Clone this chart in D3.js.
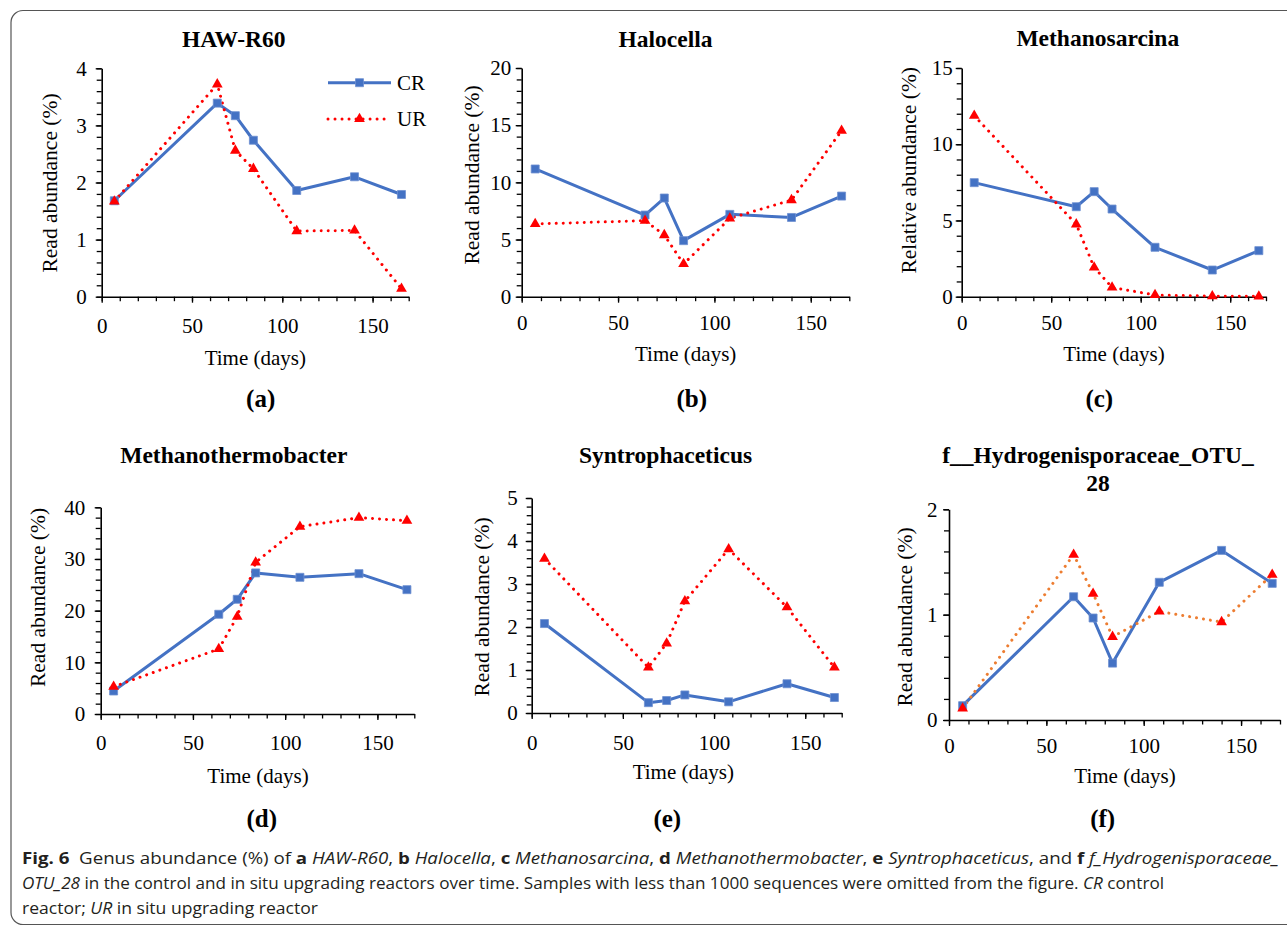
<!DOCTYPE html>
<html>
<head>
<meta charset="utf-8">
<script src="https://cdn.jsdelivr.net/npm/d3@7"></script>
<style>
  html, body { margin: 0; padding: 0; background: #fff; }
  svg { display: block; }
</style>
</head>
<body>
<svg id="chart" width="1287" height="927"></svg>
<script>
// ---------------- DATA ----------------
const days = [7, 64, 74, 84, 108, 140, 166];
const seriesNames = ["CR", "UR"];

const hawCR = [1.68, 3.39, 3.17, 2.74, 1.86, 2.10, 1.79];
const hawUR = [1.67, 3.72, 2.56, 2.24, 1.15, 1.16, 0.14];

const haloCR = [11.17, 7.14, 8.63, 4.90, 7.20, 6.93, 8.80];
const haloUR = [6.36, 6.65, 5.39, 2.86, 6.85, 8.45, 14.52];

const msarCR = [7.48, 5.90, 6.89, 5.75, 3.24, 1.75, 3.02];
const msarUR = [11.87, 4.75, 1.92, 0.61, 0.11, 0.04, 0.02];

const mthermCR = [4.45, 19.30, 22.20, 27.30, 26.45, 27.16, 24.06];
const mthermUR = [5.29, 12.58, 18.84, 29.35, 36.26, 38.00, 37.40];

const syntCR = [2.08, 0.24, 0.29, 0.42, 0.26, 0.68, 0.36];
const syntUR = [3.59, 1.06, 1.62, 2.60, 3.81, 2.46, 1.06];

const hydroCR = [0.136, 1.17, 0.968, 0.54, 1.307, 1.61, 1.297];
const hydroUR = [0.11, 1.57, 1.20, 0.79, 1.03, 0.93, 1.38];

const xTicks = [0, 50, 100, 150];
const yTicksA = [0, 1, 2, 3, 4];
const yTicksB = [0, 5, 10, 15, 20];
const yTicksC = [0, 5, 10, 15];
const yTicksD = [0, 10, 20, 30, 40];
const yTicksE = [0, 1, 2, 3, 4, 5];
const yTicksF = [0, 1, 2];

const titles = ["HAW-R60", "Halocella", "Methanosarcina", "Methanothermobacter", "Syntrophaceticus", ["f__Hydrogenisporaceae_OTU_", "28"]];
const yLabels = ["Read abundance (%)", "Read abundance (%)", "Relative abundance (%)", "Read abundance (%)", "Read abundance (%)", "Read abundance (%)"];
const xLabel = "Time (days)";
const panelTags = ["(a)", "(b)", "(c)", "(d)", "(e)", "(f)"];

// ---------------- STYLE / LAYOUT ----------------
const BLUE = "#4472C4", RED = "#FF0000", ORANGE = "#ED7D31";
const SERIF = "'Liberation Serif', 'Times New Roman', serif";

const panels = [
  { cr: hawCR, ur: hawUR, yt: yTicksA, ymax: 4, minor: 0.2, x0: 101.7, x1: 408.7, yTop: 68.3, yBot: 296.7,
    title: titles[0], tx: 233.7, ty: 46.5, yl: yLabels[0], ylx: 50, yly: 183, gap: 15, xtb: 36,
    xlx: 255.3, xly: 365, tag: panelTags[0], tgx: 260.7, tgy: 407, urColor: RED, legend: true },
  { cr: haloCR, ur: haloUR, yt: yTicksB, ymax: 20, minor: 1, x0: 521.7, x1: 849.3, yTop: 68, yBot: 296.7,
    title: titles[1], tx: 665.5, ty: 46.5, yl: yLabels[1], ylx: 472.3, yly: 175, gap: 10.5, xtb: 33.5,
    xlx: 685.7, xly: 361.3, tag: panelTags[1], tgx: 691.7, tgy: 407, urColor: RED },
  { cr: msarCR, ur: msarUR, yt: yTicksC, ymax: 15, minor: 1, x0: 961.7, x1: 1266, yTop: 68, yBot: 296.7,
    title: titles[2], tx: 1097.8, ty: 46, yl: yLabels[2], ylx: 908.7, yly: 170.3, gap: 9, xtb: 33.5,
    xlx: 1114, xly: 361.3, tag: panelTags[2], tgx: 1099.3, tgy: 407, urColor: RED },
  { cr: mthermCR, ur: mthermUR, yt: yTicksD, ymax: 40, minor: 2, x0: 100.7, x1: 414.3, yTop: 507.3, yBot: 714,
    title: titles[3], tx: 233.8, ty: 463.3, yl: yLabels[3], ylx: 37.5, yly: 597.5, gap: 15.5, xtb: 36,
    xlx: 258, xly: 782.7, tag: panelTags[3], tgx: 261.7, tgy: 827, urColor: RED },
  { cr: syntCR, ur: syntUR, yt: yTicksE, ymax: 5, minor: 0.2, x0: 531.7, x1: 841.7, yTop: 498, yBot: 713,
    title: titles[4], tx: 665.5, ty: 463.3, yl: yLabels[4], ylx: 481.7, yly: 607, gap: 14, xtb: 37,
    xlx: 683.3, xly: 779.3, tag: panelTags[4], tgx: 667.3, tgy: 827, urColor: RED },
  { cr: hydroCR, ur: hydroUR, yt: yTicksF, ymax: 2, minor: 0.2, x0: 949, x1: 1280, yTop: 509.3, yBot: 720,
    title: titles[5], tx: 1098, ty: 463.3, yl: yLabels[5], ylx: 905.3, yly: 617, gap: 11.5, xtb: 33,
    xlx: 1125, xly: 782.7, tag: panelTags[5], tgx: 1102.7, tgy: 827, urColor: ORANGE }
];

const svg = d3.select("#chart");

// outer frame
svg.append("rect")
  .attr("x", 11).attr("y", 10.5).attr("width", 1300).attr("height", 914)
  .attr("rx", 12).attr("ry", 12)
  .attr("fill", "none").attr("stroke", "#555").attr("stroke-width", 1.2);

const sqSym = d3.symbol().type(d3.symbolSquare).size(64);
const triSym = d3.symbol().type(d3.symbolTriangle).size(50);

function range(a, b, step) {
  const out = [];
  const n = Math.round((b - a) / step);
  for (let i = 0; i <= n; i++) out.push(+(a + i * step).toFixed(6));
  return out;
}

panels.forEach(p => {
  const g = svg.append("g");
  const x = d3.scaleLinear().domain([0, 170]).range([p.x0, p.x1]);
  const y = d3.scaleLinear().domain([0, p.ymax]).range([p.yBot, p.yTop]);

  // minor y ticks
  const yMinor = g.append("g").attr("transform", `translate(${p.x0},0)`)
    .call(d3.axisLeft(y).tickValues(range(0, p.ymax, p.minor)).tickSize(5).tickSizeOuter(0).tickFormat(""));
  yMinor.select(".domain").remove();
  yMinor.selectAll("line").attr("stroke", "#000").attr("stroke-width", 1.3);

  // major y axis
  const yAx = g.append("g").attr("transform", `translate(${p.x0},0)`)
    .call(d3.axisLeft(y).tickValues(p.yt).tickSize(6).tickSizeOuter(0).tickPadding(p.gap - 6).tickFormat(d3.format("d")));
  yAx.attr("font-family", SERIF);
  yAx.select(".domain").attr("stroke", "#000").attr("stroke-width", 1.6);
  yAx.selectAll("line").attr("stroke", "#000").attr("stroke-width", 1.3);
  yAx.selectAll("text").attr("font-family", SERIF).attr("font-size", 21).attr("fill", "#000");

  // minor x ticks
  const xMinor = g.append("g").attr("transform", `translate(0,${p.yBot})`)
    .call(d3.axisBottom(x).tickValues(range(0, 170, 10)).tickSize(4.5).tickSizeOuter(0).tickFormat(""));
  xMinor.select(".domain").remove();
  xMinor.selectAll("line").attr("stroke", "#000").attr("stroke-width", 1.3);

  // major x axis
  const xAx = g.append("g").attr("transform", `translate(0,${p.yBot})`)
    .call(d3.axisBottom(x).tickValues(xTicks).tickSize(6).tickSizeOuter(0).tickFormat(d3.format("d")));
  xAx.attr("font-family", SERIF);
  xAx.select(".domain").attr("stroke", "#000").attr("stroke-width", 1.6);
  xAx.selectAll("line").attr("stroke", "#000").attr("stroke-width", 1.3);
  xAx.selectAll("text").attr("font-family", SERIF).attr("font-size", 21).attr("fill", "#000")
    .attr("dy", null).attr("y", p.xtb);

  // lines
  const line = d3.line().x((d, i) => x(days[i])).y(d => y(d));
  g.append("path").datum(p.cr).attr("d", line)
    .attr("fill", "none").attr("stroke", BLUE).attr("stroke-width", 3).attr("stroke-linejoin", "round");
  g.append("path").datum(p.ur).attr("d", line)
    .attr("fill", "none").attr("stroke", p.urColor).attr("stroke-width", 3)
    .attr("stroke-linecap", "round").attr("stroke-dasharray", "0.01 7");

  // markers
  g.selectAll(".sq").data(p.cr).enter().append("path")
    .attr("transform", (d, i) => `translate(${x(days[i])},${y(d)})`)
    .attr("d", sqSym).attr("fill", BLUE).attr("stroke", "#6d8fd0").attr("stroke-width", 0.8);
  g.selectAll(".tri").data(p.ur).enter().append("path")
    .attr("transform", (d, i) => `translate(${x(days[i])},${y(d)})`)
    .attr("d", triSym).attr("fill", RED);

  // title
  const t = g.append("text").attr("x", p.tx).attr("y", p.ty)
    .attr("text-anchor", "middle").attr("font-family", SERIF).attr("font-weight", "bold")
    .attr("font-size", 23.5).attr("fill", "#000");
  if (Array.isArray(p.title)) {
    p.title.forEach((s, i) => t.append("tspan").attr("x", p.tx).attr("dy", i === 0 ? 0 : 27.4).text(s));
  } else t.text(p.title);

  // y label
  g.append("text")
    .attr("transform", `translate(${p.ylx},${p.yly}) rotate(-90)`)
    .attr("text-anchor", "middle").attr("dominant-baseline", "central")
    .attr("font-family", SERIF).attr("font-size", 21.5).attr("fill", "#000").text(p.yl);

  // x label
  g.append("text").attr("x", p.xlx).attr("y", p.xly).attr("text-anchor", "middle")
    .attr("font-family", SERIF).attr("font-size", 21).attr("fill", "#000").text(xLabel);

  // panel tag
  g.append("text").attr("x", p.tgx).attr("y", p.tgy).attr("text-anchor", "middle")
    .attr("font-family", SERIF).attr("font-weight", "bold").attr("font-size", 25).attr("fill", "#000").text(p.tag);

  // legend
  if (p.legend) {
    const lg = g.append("g");
    const lx0 = 328, lx1 = 391, ly = [82.7, 119];
    lg.append("line").attr("x1", lx0).attr("x2", lx1).attr("y1", ly[0]).attr("y2", ly[0])
      .attr("stroke", BLUE).attr("stroke-width", 3);
    lg.append("path").attr("transform", `translate(${(lx0 + lx1) / 2},${ly[0]})`).attr("d", sqSym)
      .attr("fill", BLUE).attr("stroke", "#6d8fd0").attr("stroke-width", 0.8);
    lg.append("line").attr("x1", lx0).attr("x2", lx1).attr("y1", ly[1]).attr("y2", ly[1])
      .attr("stroke", RED).attr("stroke-width", 3).attr("stroke-linecap", "round").attr("stroke-dasharray", "0.01 7");
    lg.append("path").attr("transform", `translate(${(lx0 + lx1) / 2},${ly[1]})`).attr("d", triSym).attr("fill", RED);
    seriesNames.forEach((s, i) => {
      lg.append("text").attr("x", 397).attr("y", ly[i] + 7).attr("font-family", SERIF)
        .attr("font-size", 21).attr("fill", "#000").text(s);
    });
  }
});

// ---------------- CAPTION ----------------
const SANS = "'Open Sans', 'Noto Sans', sans-serif";
const captionLines = [
  { y: 864, len: 1257, parts: [
    ["Fig. 6", "b"], ["  Genus abundance (%) of ", "r"], ["a", "b"], [" HAW-R60", "i"], [", ", "r"],
    ["b", "b"], [" Halocella", "i"], [", ", "r"], ["c", "b"], [" Methanosarcina", "i"], [", ", "r"],
    ["d", "b"], [" Methanothermobacter", "i"], [", ", "r"], ["e", "b"], [" Syntrophaceticus", "i"],
    [", and ", "r"], ["f", "b"], [" f_Hydrogenisporaceae_", "i"] ] },
  { y: 889, len: 1142, parts: [
    ["OTU_28", "i"], [" in the control and in situ upgrading reactors over time. Samples with less than 1000 sequences were omitted from the figure. ", "r"],
    ["CR", "i"], [" control", "r"] ] },
  { y: 914, len: 296, parts: [ ["reactor; ", "r"], ["UR", "i"], [" in situ upgrading reactor", "r"] ] }
];
captionLines.forEach(L => {
  const t = svg.append("text").attr("x", 22).attr("y", L.y)
    .attr("font-family", SANS).attr("font-size", 16.5).attr("fill", "#231f20")
    .attr("xml:space", "preserve").style("white-space", "pre")
    .attr("textLength", L.len).attr("lengthAdjust", "spacingAndGlyphs");
  L.parts.forEach(([s, st]) => {
    const ts = t.append("tspan").text(s);
    if (st === "b") ts.attr("font-weight", "bold");
    if (st === "i") ts.attr("font-style", "italic");
  });
});
</script>
</body>
</html>
